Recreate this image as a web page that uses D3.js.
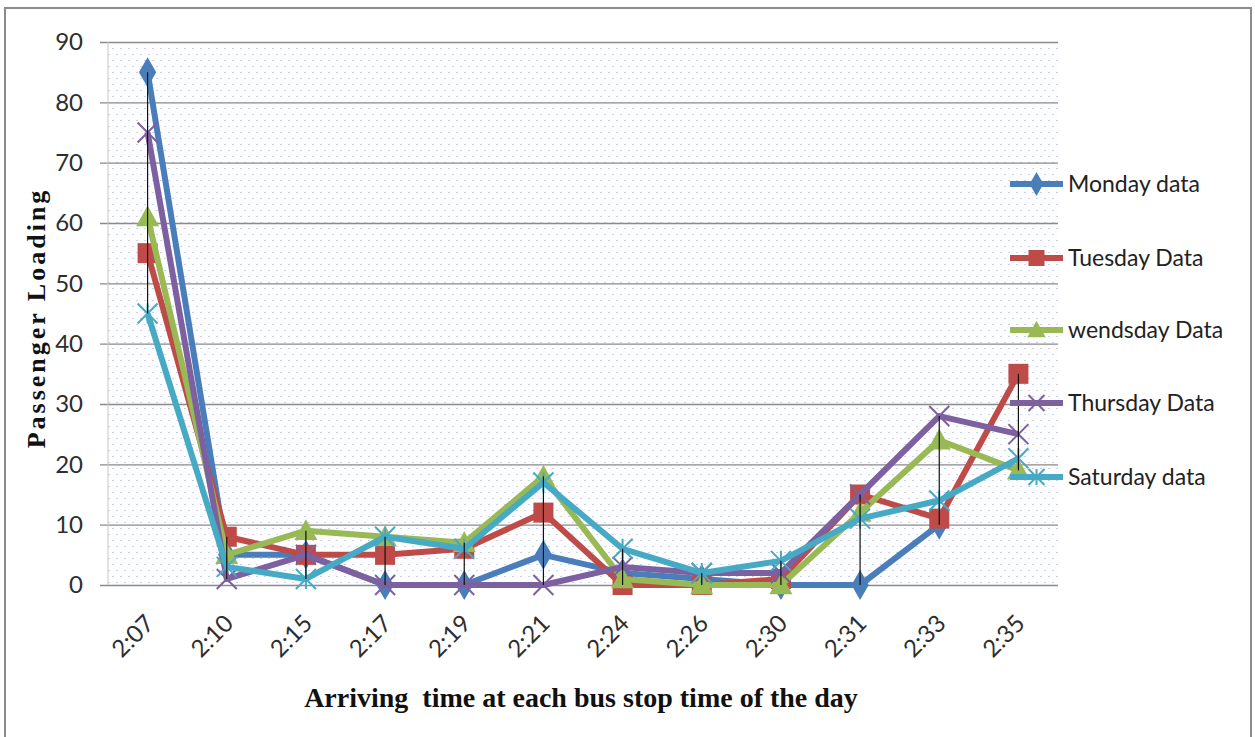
<!DOCTYPE html>
<html>
<head>
<meta charset="utf-8">
<script src="https://cdn.jsdelivr.net/npm/d3@7"></script>
<style>
html,body{margin:0;padding:0;background:#fff;}
svg{display:block;}
</style>
</head>
<body>
<svg id="chart" width="1255" height="737"></svg>
<script>
// ---- data ----
const categories = ["2:07","2:10","2:15","2:17","2:19","2:21","2:24","2:26","2:30","2:31","2:33","2:35"];
const mondayData    = [85, 5, 5, 0, 0, 5, 2, 1, 0, 0, 10, null];
const tuesdayData   = [55, 8, 5, 5, 6, 12, 0, 0, 1, 15, 11, 35];
const wednesdayData = [61, 5, 9, 8, 7, 18, 1, 0, 0, 12, 24, 19];
const thursdayData  = [75, 1, 5, 0, 0, 0, 3, 2, 2, 15, 28, 25];
const saturdayData  = [45, 3, 1, 8, 6, 17, 6, 2, 4, 11, 14, 21];
const seriesNames = ["Monday data","Tuesday Data","wendsday Data","Thursday Data","Saturday data"];
const yTicks = [0,10,20,30,40,50,60,70,80,90];
const yTitle = "Passenger Loading";
const xTitle = "Arriving  time at each bus stop time of the day";

const seriesValues = [mondayData, tuesdayData, wednesdayData, thursdayData, saturdayData];
const colors = ["#4a7ebb","#be4b48","#98b954","#7d60a0","#46aac5"];
const markerTypes = ["diamond","square","triangle","x","star"];

const svg = d3.select("#chart");
const plot = {left:108, right:1058, top:42, bottom:585};

// outer border
svg.append("rect").attr("x",5).attr("y",8).attr("width",1246).attr("height",740)
  .attr("fill","#fff").attr("stroke","#8c8c8c").attr("stroke-width",2);

// pattern
const defs = svg.append("defs");
const pat = defs.append("pattern").attr("id","dots").attr("patternUnits","userSpaceOnUse")
  .attr("width",8).attr("height",12);
pat.append("rect").attr("width",8).attr("height",12).attr("fill","#fdfdff");
pat.append("rect").attr("x",0).attr("y",0).attr("width",2).attr("height",1).attr("fill","#c9d5e6");
pat.append("rect").attr("x",4).attr("y",6).attr("width",2).attr("height",1).attr("fill","#c9d5e6");

const x = d3.scaleBand().domain(categories).range([plot.left, plot.right]);
const y = d3.scaleLinear().domain([0,90]).range([plot.bottom, plot.top]);

svg.append("rect").attr("x",plot.left).attr("y",plot.top)
  .attr("width",plot.right-plot.left).attr("height",plot.bottom-plot.top)
  .attr("fill","url(#dots)");

// y axis with gridlines
const yAxis = d3.axisLeft(y).tickValues(yTicks).tickSize(-(plot.right-plot.left)).tickPadding(25);
const gy = svg.append("g").attr("transform",`translate(${plot.left},0)`).call(yAxis);
gy.select(".domain").remove();
gy.selectAll(".tick line").attr("stroke","#8a8a8a").attr("stroke-width",1.3).attr("x1",-8);
gy.selectAll(".tick text").attr("font-family","Lato").attr("font-size",24).attr("fill","#2e2e2e");
svg.append("line").attr("x1",plot.left).attr("x2",plot.left).attr("y1",plot.top).attr("y2",plot.bottom)
  .attr("stroke","#c8c8c8").attr("stroke-width",1);

// x axis
const xAxis = d3.axisBottom(x).tickSize(0).tickPadding(0);
const gx = svg.append("g").attr("transform",`translate(0,${plot.bottom})`).call(xAxis);
gx.select(".domain").remove();
gx.selectAll(".tick text")
  .attr("font-family","Lato").attr("font-size",24).attr("fill","#2e2e2e")
  .attr("text-anchor","end").attr("dy",0)
  .attr("transform","translate(8,40) rotate(-45)");

// lines
const line = d3.line().defined(d => d != null)
  .x((d,i) => x(categories[i]) + x.bandwidth()/2)
  .y(d => y(d));

function drawMarker(g, type, cx, cy, color, s) {
  s = s || 1;
  if (type === "diamond") {
    g.append("path").attr("d", d3.symbol(d3.symbolDiamond, 260*s*s)())
      .attr("transform",`translate(${cx},${cy})`).attr("fill",color);
  } else if (type === "square") {
    const a = 20*s;
    g.append("rect").attr("x",cx-a/2).attr("y",cy-a/2).attr("width",a).attr("height",a).attr("fill",color);
  } else if (type === "triangle") {
    const a = 11.5*s;
    g.append("path").attr("d",`M${cx},${cy-a}L${cx+a},${cy+a*0.8}L${cx-a},${cy+a*0.8}Z`).attr("fill",color);
  } else if (type === "x") {
    const a = 10*s;
    g.append("path").attr("d",`M${cx-a},${cy-a}L${cx+a},${cy+a}M${cx-a},${cy+a}L${cx+a},${cy-a}`)
      .attr("stroke",color).attr("stroke-width",2).attr("fill","none");
  } else if (type === "star") {
    const a = 10*s;
    g.append("path").attr("d",`M${cx-a},${cy-a}L${cx+a},${cy+a}M${cx-a},${cy+a}L${cx+a},${cy-a}M${cx},${cy-a}L${cx},${cy+a}`)
      .attr("stroke",color).attr("stroke-width",2).attr("fill","none");
  }
}

seriesValues.forEach((vals, si) => {
  const g = svg.append("g");
  g.append("path").datum(vals).attr("d", line).attr("fill","none")
    .attr("stroke", colors[si]).attr("stroke-width",6).attr("stroke-linejoin","round");
  vals.forEach((v,i) => {
    if (v == null) return;
    drawMarker(g, markerTypes[si], x(categories[i]) + x.bandwidth()/2, y(v), colors[si]);
  });
});

// high-low lines
categories.forEach((c,i) => {
  const vs = seriesValues.map(s => s[i]).filter(v => v != null);
  const cx = x(c) + x.bandwidth()/2;
  svg.append("line").attr("x1",cx).attr("x2",cx)
    .attr("y1",y(d3.max(vs))).attr("y2",y(d3.min(vs)))
    .attr("stroke","#111").attr("stroke-width",1.2);
});

// legend
const legY = [184, 258, 330, 403, 477];
seriesNames.forEach((name, si) => {
  const g = svg.append("g");
  const ly = legY[si];
  g.append("line").attr("x1",1010).attr("x2",1063).attr("y1",ly).attr("y2",ly)
    .attr("stroke",colors[si]).attr("stroke-width",6);
  drawMarker(g, markerTypes[si], 1036.5, ly, colors[si], 0.8);
  g.append("text").attr("x",1068).attr("y",ly+8).text(name)
    .attr("font-family","Lato").attr("font-size",23).attr("fill","#222");
});

// axis titles
svg.append("text").attr("x",581).attr("y",707).attr("text-anchor","middle")
  .attr("font-family","Liberation Serif").attr("font-weight","bold").attr("font-size",28)
  .attr("fill","#111").text(xTitle).style("white-space","pre");
svg.append("text").attr("transform","translate(45,318) rotate(-90)").attr("text-anchor","middle")
  .attr("font-family","Liberation Serif").attr("font-weight","bold").attr("font-size",26)
  .attr("letter-spacing",3).attr("fill","#111").text(yTitle);
</script>
</body>
</html>
